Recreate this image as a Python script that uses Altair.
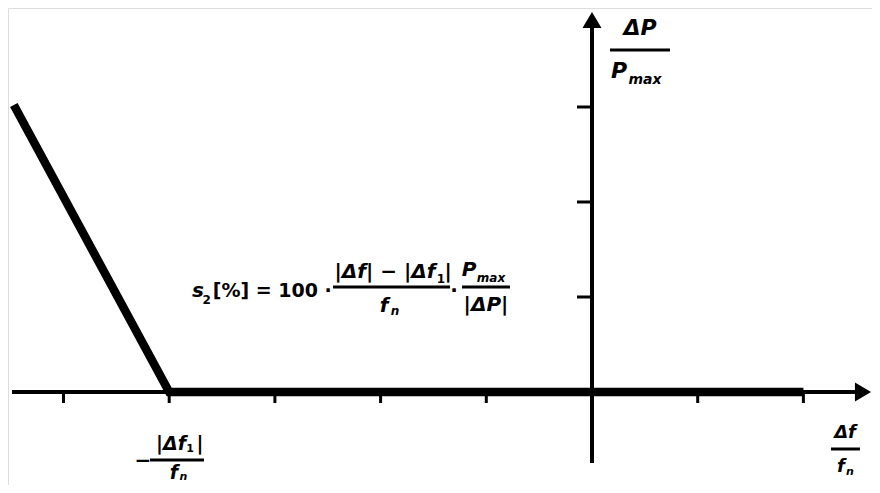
import altair as alt
import pandas as pd

# characteristic (x in tick units of Δf/fn, y in tick units of ΔP/Pmax)
droop_f = [-5.47, -4.0, 2.0]
droop_p = [3.02, 0.0, 0.0]

# tick positions
x_ticks = [-5, -4, -3, -2, -1, 1, 2]
y_ticks = [1, 2, 3]

# axis extents
x_axis_from, x_axis_to = -5.487, 2.50
y_axis_from, y_axis_to = -0.747, 3.87
x_arrow_at, y_arrow_at = 2.564, 3.916

# text pieces: (text, x, y, size, italic)
labels = [
    # formula
    ("s", -3.728, 1.063, 20, True),
    ("2", -3.645, 0.968, 12, False),
    ("[%] = 100 ·", -3.025, 1.063, 19, False),
    ("|Δf| − |Δf", -1.958, 1.263, 20, True),
    ("1", -1.429, 1.189, 12, False),
    ("|", -1.362, 1.263, 20, True),
    ("f", -1.968, 0.905, 20, True),
    ("n", -1.864, 0.853, 12, True),
    ("·", -1.306, 1.063, 20, False),
    ("P", -1.164, 1.284, 20, True),
    ("max", -0.956, 1.20, 12, True),
    ("|ΔP|", -1.003, 0.916, 20, True),
    # y label
    ("ΔP", 0.454, 3.832, 22, True),
    ("P", 0.255, 3.379, 22, True),
    ("max", 0.501, 3.284, 14, True),
    # -|Δf1|/fn
    ("−", -4.248, -0.726, 20, False),
    ("|Δf", -3.983, -0.547, 19, True),
    ("1", -3.803, -0.600, 11, False),
    ("|", -3.709, -0.547, 19, True),
    ("f", -3.955, -0.850, 19, True),
    ("n", -3.865, -0.890, 11, True),
    # x label
    ("Δf", 2.394, -0.432, 18, True),
    ("f", 2.356, -0.789, 18, True),
    ("n", 2.441, -0.842, 11, True),
]

# fraction bars: (x, x2, y)
bars = [
    (-2.450, -1.343, 1.105),
    (-1.230, -0.776, 1.105),
    (0.170, 0.738, 3.60),
    (-4.182, -3.671, -0.716),
    (2.261, 2.535, -0.600),
]

X = alt.Scale(domain=[-5.525, 2.649], nice=False, zero=False)
Y = alt.Scale(domain=[-0.979, 4.042], nice=False, zero=False)

droop_df = pd.DataFrame({"f": droop_f, "p": droop_p, "o": list(range(len(droop_f)))})
axes_df = pd.DataFrame({
    "x": [x_axis_from, 0.0], "x2": [x_axis_to, 0.0],
    "y": [0.0, y_axis_from], "y2": [0.0, y_axis_to],
})
xt_df = pd.DataFrame({"x": x_ticks, "y": [0.0] * len(x_ticks)})
yt_df = pd.DataFrame({"x": [0.0] * len(y_ticks), "y": y_ticks})
arrow_r = pd.DataFrame({"x": [x_arrow_at], "y": [0.0]})
arrow_u = pd.DataFrame({"x": [0.0], "y": [y_arrow_at]})
lab_df = pd.DataFrame(labels, columns=["t", "x", "y", "s", "it"])
bar_df = pd.DataFrame(bars, columns=["x", "x2", "y"])

ax = alt.X("x:Q", scale=X, axis=None)
ay = alt.Y("y:Q", scale=Y, axis=None)

axes = alt.Chart(axes_df).mark_rule(color="black", strokeWidth=4).encode(
    x=ax, x2="x2:Q", y=ay, y2="y2:Q")
droop = alt.Chart(droop_df).mark_line(color="black", strokeWidth=8.5, strokeJoin="miter", strokeCap="butt").encode(
    x=alt.X("f:Q", scale=X, axis=None), y=alt.Y("p:Q", scale=Y, axis=None), order="o:O")
xticks = alt.Chart(xt_df).mark_point(shape="M0,0V1", size=484, strokeWidth=3, color="black", filled=False, opacity=1).encode(x=ax, y=ay)
yticks = alt.Chart(yt_df).mark_point(shape="M0,0H-1", size=900, strokeWidth=3, color="black", filled=False, opacity=1).encode(x=ax, y=ay)
arr_r = alt.Chart(arrow_r).mark_point(shape="M-0.85,-1L0.85,0L-0.85,1Z", size=361, filled=True, color="black", opacity=1).encode(x=ax, y=ay)
arr_u = alt.Chart(arrow_u).mark_point(shape="M-1,0.85L0,-0.85L1,0.85Z", size=361, filled=True, color="black", opacity=1).encode(x=ax, y=ay)
fbars = alt.Chart(bar_df).mark_rule(color="black", strokeWidth=3).encode(x=ax, x2="x2:Q", y=ay)

base_text = dict(font="DejaVu Sans", fontWeight="bold", color="black", align="center", baseline="middle")
t_it = alt.Chart(lab_df).transform_filter("datum.it").mark_text(fontStyle="italic", **base_text).encode(
    x=ax, y=ay, text="t:N", size=alt.Size("s:Q", scale=None, legend=None))
t_up = alt.Chart(lab_df).transform_filter("!datum.it").mark_text(fontStyle="normal", **base_text).encode(
    x=ax, y=ay, text="t:N", size=alt.Size("s:Q", scale=None, legend=None))

chart = alt.layer(axes, droop, xticks, yticks, arr_r, arr_u, fbars, t_it, t_up).properties(
    width=864, height=477, padding=0, autosize="none"
).configure_view(stroke=None).configure(background="white")

chart.save("out.html", embed_options={"renderer": "svg", "actions": False})
